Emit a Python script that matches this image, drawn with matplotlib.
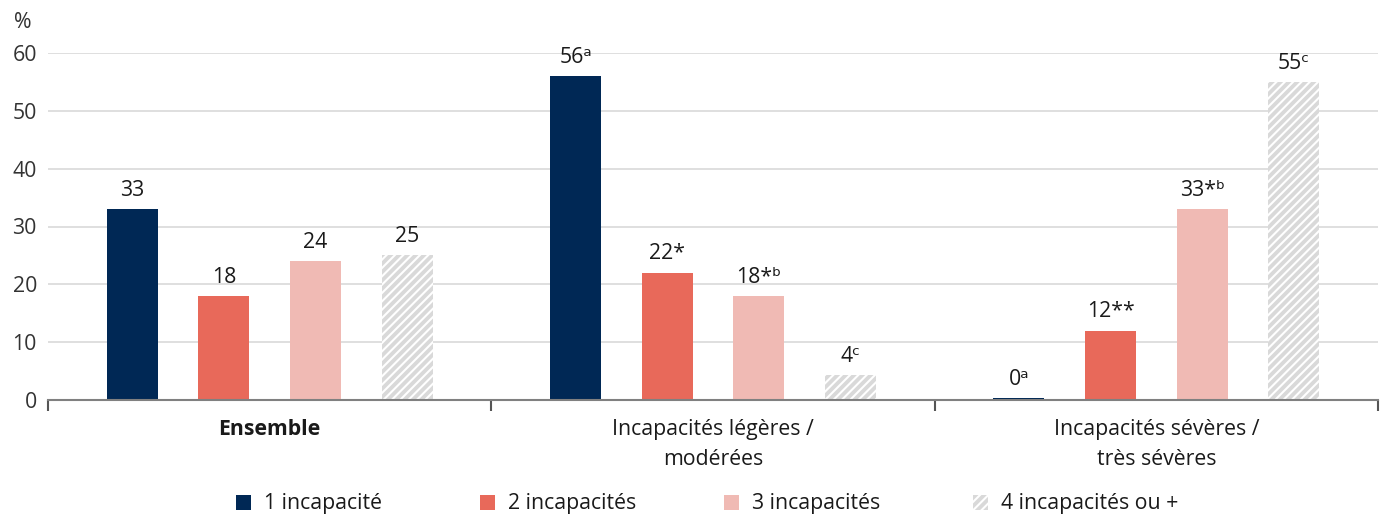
import matplotlib
matplotlib.use("Agg")
import matplotlib.pyplot as plt
from matplotlib.patches import Rectangle
import numpy as np

plt.rcParams['font.family'] = ['Open Sans', 'DejaVu Sans']
plt.rcParams['hatch.color'] = 'white'
plt.rcParams['hatch.linewidth'] = 1.5

groups = ["Ensemble", "Incapacités légères /\nmodérées", "Incapacités sévères /\ntrès sévères"]
series = ["1 incapacité", "2 incapacités", "3 incapacités", "4 incapacités ou +"]
values = [
    [33, 18, 24, 25],
    [56, 22, 18, 4.3],
    [0.3, 12, 33, 55],
]
labels = [
    ["33", "18", "24", "25"],
    ["56ᵃ", "22*", "18*ᵇ", "4ᶜ"],
    ["0ᵃ", "12**", "33*ᵇ", "55ᶜ"],
]
yticks = [0, 10, 20, 30, 40, 50, 60]

colors = ["#002855", "#E8695A", "#F0BAB4", "#D9D9D9"]
hatches = [None, None, None, "////"]

W, H = 1385, 517
fig = plt.figure(figsize=(W / 100, H / 100), dpi=100)
ax = fig.add_axes([48 / W, (517 - 400) / H, (1378 - 48) / W, (400 - 53) / H])

FS = 15.3
n = len(series)
spacing = 0.2066
bw = 0.115
x = np.arange(len(groups))
for j in range(n):
    vals = [values[g][j] for g in range(len(groups))]
    pos = x + (j - (n - 1) / 2) * spacing
    bars = ax.bar(pos, vals, width=bw, color=colors[j], hatch=hatches[j],
                  edgecolor='white' if hatches[j] else colors[j],
                  linewidth=0, zorder=3)
    for g, b in enumerate(bars):
        ax.annotate(labels[g][j], (b.get_x() + b.get_width() / 2, b.get_height()),
                    xytext=(0, 6), textcoords='offset points', ha='center', va='bottom',
                    fontsize=FS, color='#1a1a1a', annotation_clip=False)

ax.set_xlim(-0.5, len(groups) - 0.5)
ax.set_ylim(0, 60)
ax.set_yticks(yticks)
ax.set_yticklabels([str(t) for t in yticks], fontsize=FS, color='#333333')
ax.tick_params(axis='y', length=0, pad=8)
ax.grid(axis='y', color='#D9D9D9', linewidth=1.2, zorder=0)
for s in ['top', 'right', 'left']:
    ax.spines[s].set_visible(False)
ax.spines['bottom'].set_color('#808080')
ax.spines['bottom'].set_linewidth(1.5)
ax.spines['bottom'].set_zorder(4)

ax.set_xticks(x)
ax.set_xticklabels(groups, fontsize=FS, color='#1a1a1a', linespacing=1.55)
ax.get_xticklabels()[0].set_fontweight('bold')
ax.tick_params(axis='x', length=0, pad=14)
ax.set_xticks(np.arange(len(groups) + 1) - 0.5, minor=True)
ax.tick_params(axis='x', which='minor', length=8, width=1.5, color='#555555')

fig.text(14 / W, 1 - 22 / H, "%", fontsize=FS, color='#333333', ha='left', va='center')

# legend
leg_x = [236, 480, 724, 973]
for j, lx in enumerate(leg_x):
    r = Rectangle((lx / W, 1 - 510 / H), 15 / W, 15 / H, transform=fig.transFigure,
                  facecolor=colors[j], hatch=hatches[j],
                  edgecolor='white' if hatches[j] else colors[j], linewidth=0)
    fig.patches.append(r)
    fig.text((lx + 28) / W, 1 - 503 / H, series[j], fontsize=FS, color='#1a1a1a',
             ha='left', va='center')

fig.savefig("out.png", dpi=100)
